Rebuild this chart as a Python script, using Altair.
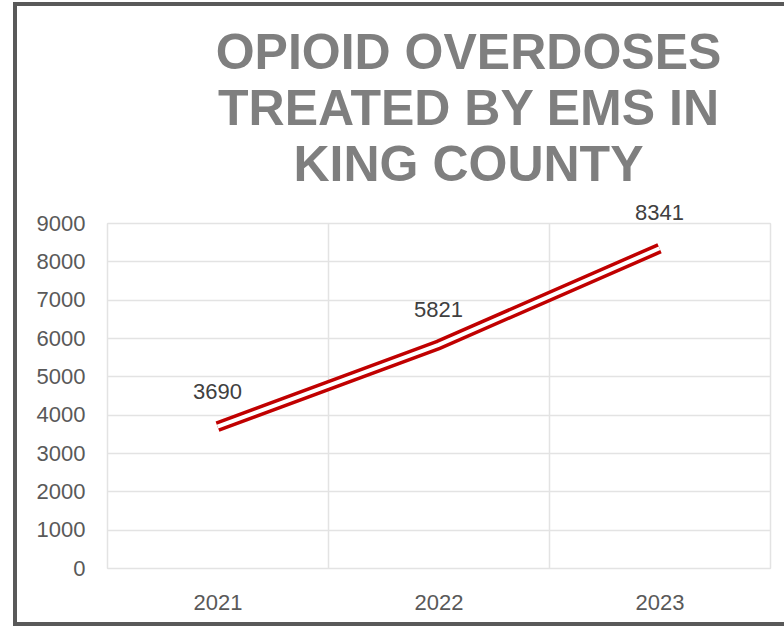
import altair as alt
import pandas as pd

years = ["2021", "2022", "2023"]
overdoses = [3690, 5821, 8341]
y_ticks = [0, 1000, 2000, 3000, 4000, 5000, 6000, 7000, 8000, 9000]
title_lines = ["OPIOID OVERDOSES", "TREATED BY EMS IN", "KING COUNTY"]

df = pd.DataFrame({"year": years, "value": overdoses})

FONT = "Liberation Sans"

x_enc = alt.X(
    "year:N",
    scale=alt.Scale(type="band", paddingInner=0, paddingOuter=0),
    bandPosition=0.5,
    axis=alt.Axis(
        title=None, labelAngle=0, labelFontSize=22, labelFont=FONT,
        labelColor="#595959", labelPadding=24, ticks=False, domain=False,
        grid=True, gridColor="#e3e3e3", gridWidth=1.5, tickBand="extent",
    ),
)
y_enc = alt.Y(
    "value:Q",
    scale=alt.Scale(domain=[0, 9000], nice=False),
    axis=alt.Axis(
        title=None, values=y_ticks, format="d", labelFontSize=22, labelFont=FONT,
        labelColor="#595959", labelPadding=22, ticks=False, domain=False,
        grid=True, gridColor="#e3e3e3", gridWidth=1.5,
    ),
)

base = alt.Chart(df).encode(x=x_enc, y=y_enc)

outer = base.mark_line(color="#c00000", strokeWidth=11, strokeCap="butt")
inner = base.mark_line(color="white", strokeWidth=4, strokeCap="butt")
labels = base.mark_text(
    dy=-35, fontSize=22, font=FONT, color="#404040"
).encode(text="value:Q")

border = alt.Chart(alt.Data(values=[{}])).mark_rect(
    fillOpacity=0, stroke="#595959", strokeWidth=4
).encode(
    x=alt.value(-92), x2=alt.value(720), y=alt.value(-219), y2=alt.value(401)
)

chart = alt.layer(border, outer, inner, labels).properties(
    width=663,
    height=345,
    autosize=alt.AutoSizeParams(type="none"),
    padding={"left": 107, "top": 223, "right": 14, "bottom": 58},
    title=alt.TitleParams(
        text=title_lines, fontSize=50, font=FONT, fontWeight="bold",
        color="#7f7f7f", anchor="middle", frame="group", dx=30,
        lineHeight=56, offset=-189,
    ),
).configure_view(strokeWidth=0).configure(background="white")

chart.save("out.html", embed_options={"renderer": "svg", "actions": False})
